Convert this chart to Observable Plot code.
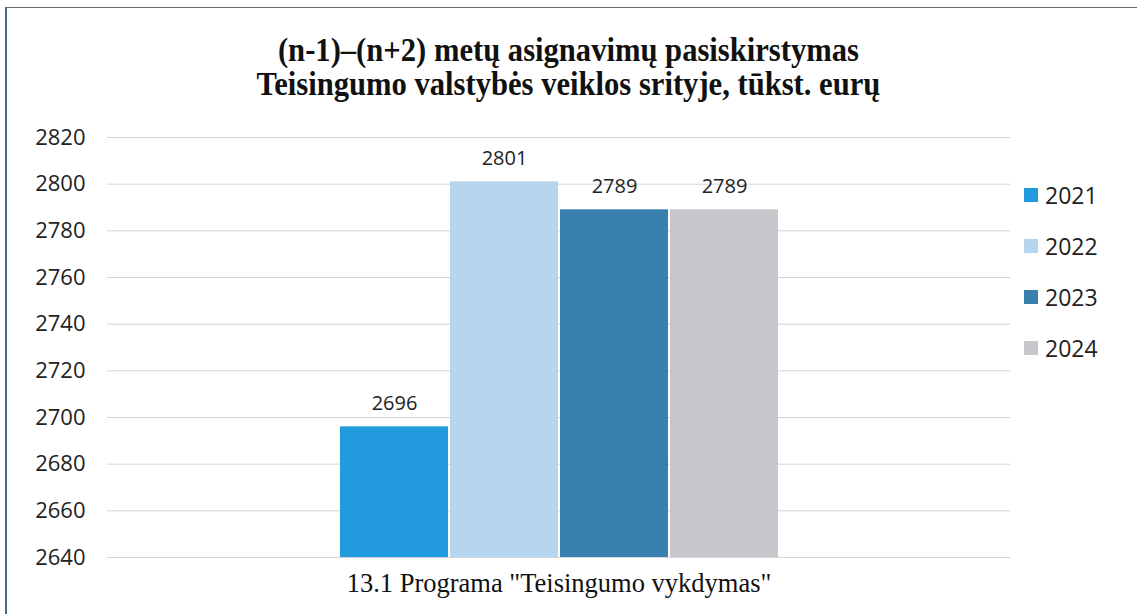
<!DOCTYPE html>
<html>
<head>
<meta charset="utf-8">
<script src="https://cdn.jsdelivr.net/npm/d3@7"></script>
<script src="https://cdn.jsdelivr.net/npm/@observablehq/plot@0.6"></script>
<style>
  html, body { margin: 0; padding: 0; background: #fff; }
  #wrap { position: relative; width: 1137px; height: 614px; overflow: hidden; background: #fff; }
  #frame { position: absolute; left: 5px; top: 7px; width: 1140px; height: 620px;
           border-left: 2px solid #3b6e9c; border-top: 1px solid #6b6b6b; box-sizing: border-box; }
  #title { position: relative; height: 110px; box-sizing: border-box; padding-top: 33px;
           text-align: center; font-family: "Liberation Serif", "Times New Roman", serif; font-weight: 700;
           font-size: 34px; line-height: 34px; color: #111; }
  #title div { transform: scaleX(0.9); transform-origin: 568px 50%; white-space: nowrap; }
  #legend { position: absolute; left: 1024px; top: 169px; font-family: "Open Sans", sans-serif;
            font-size: 23px; color: #222; }
  .item { display: flex; align-items: center; height: 51px; }
  .sw { width: 14px; height: 14px; margin-right: 7px; }
</style>
</head>
<body>
<div id="wrap">
  <div id="frame"></div>
  <div id="title"></div>
  <div id="chart"></div>
  <div id="legend"></div>
</div>
<script>
const titleLines = ["(n-1)–(n+2) metų asignavimų pasiskirstymas", "Teisingumo valstybės veiklos srityje, tūkst. eurų"];
const program = "13.1 Programa \"Teisingumo vykdymas\"";
const years = ["2021", "2022", "2023", "2024"];
const values = [2696, 2801, 2789, 2789];
const colors = ["#229bde", "#b6d5ee", "#3a80ae", "#c5c7cb"];
const yTicks = [2640, 2660, 2680, 2700, 2720, 2740, 2760, 2780, 2800, 2820];

document.getElementById("title").innerHTML = titleLines.map(t => `<div>${t}</div>`).join("");

const data = years.map((y, i) => ({program, year: y, value: values[i]}));

const chart = Plot.plot({
  width: 1137,
  height: 504,
  marginLeft: 107,
  marginRight: 127,
  marginTop: 27,
  marginBottom: 57,
  style: {fontFamily: "'Open Sans', sans-serif", fontSize: "22px", color: "#222", background: "transparent"},
  fx: {domain: [program], padding: 0, label: null},
  x: {domain: years, paddingInner: 0.02, paddingOuter: 2.096, axis: null},
  y: {domain: [yTicks[0], yTicks[yTicks.length - 1]], ticks: yTicks},
  color: {domain: years, range: colors},
  marks: [
    Plot.gridY(yTicks, {stroke: "#d4d4d4", strokeOpacity: 1, strokeWidth: 1}),
    Plot.axisY(yTicks, {tickSize: 0, tickPadding: 22, label: null, fontSize: 22, tickFormat: d => String(d)}),
    Plot.axisFx({anchor: "bottom", tickSize: 0, tickPadding: 16, label: null,
                 fontFamily: "'Liberation Serif', serif", fontSize: 26.5, fill: "#111"}),
    Plot.barY(data, {fx: "program", x: "year", y: "value", fill: "year", clip: true}),
    Plot.text(data, {fx: "program", x: "year", y: "value", text: d => String(d.value),
                     dy: -23, fontSize: 20, fill: "#222"})
  ]
});
document.getElementById("chart").appendChild(chart);

document.getElementById("legend").innerHTML = years.map((y, i) =>
  `<div class="item"><div class="sw" style="background:${colors[i]}"></div><span>${y}</span></div>`).join("");
</script>
</body>
</html>
